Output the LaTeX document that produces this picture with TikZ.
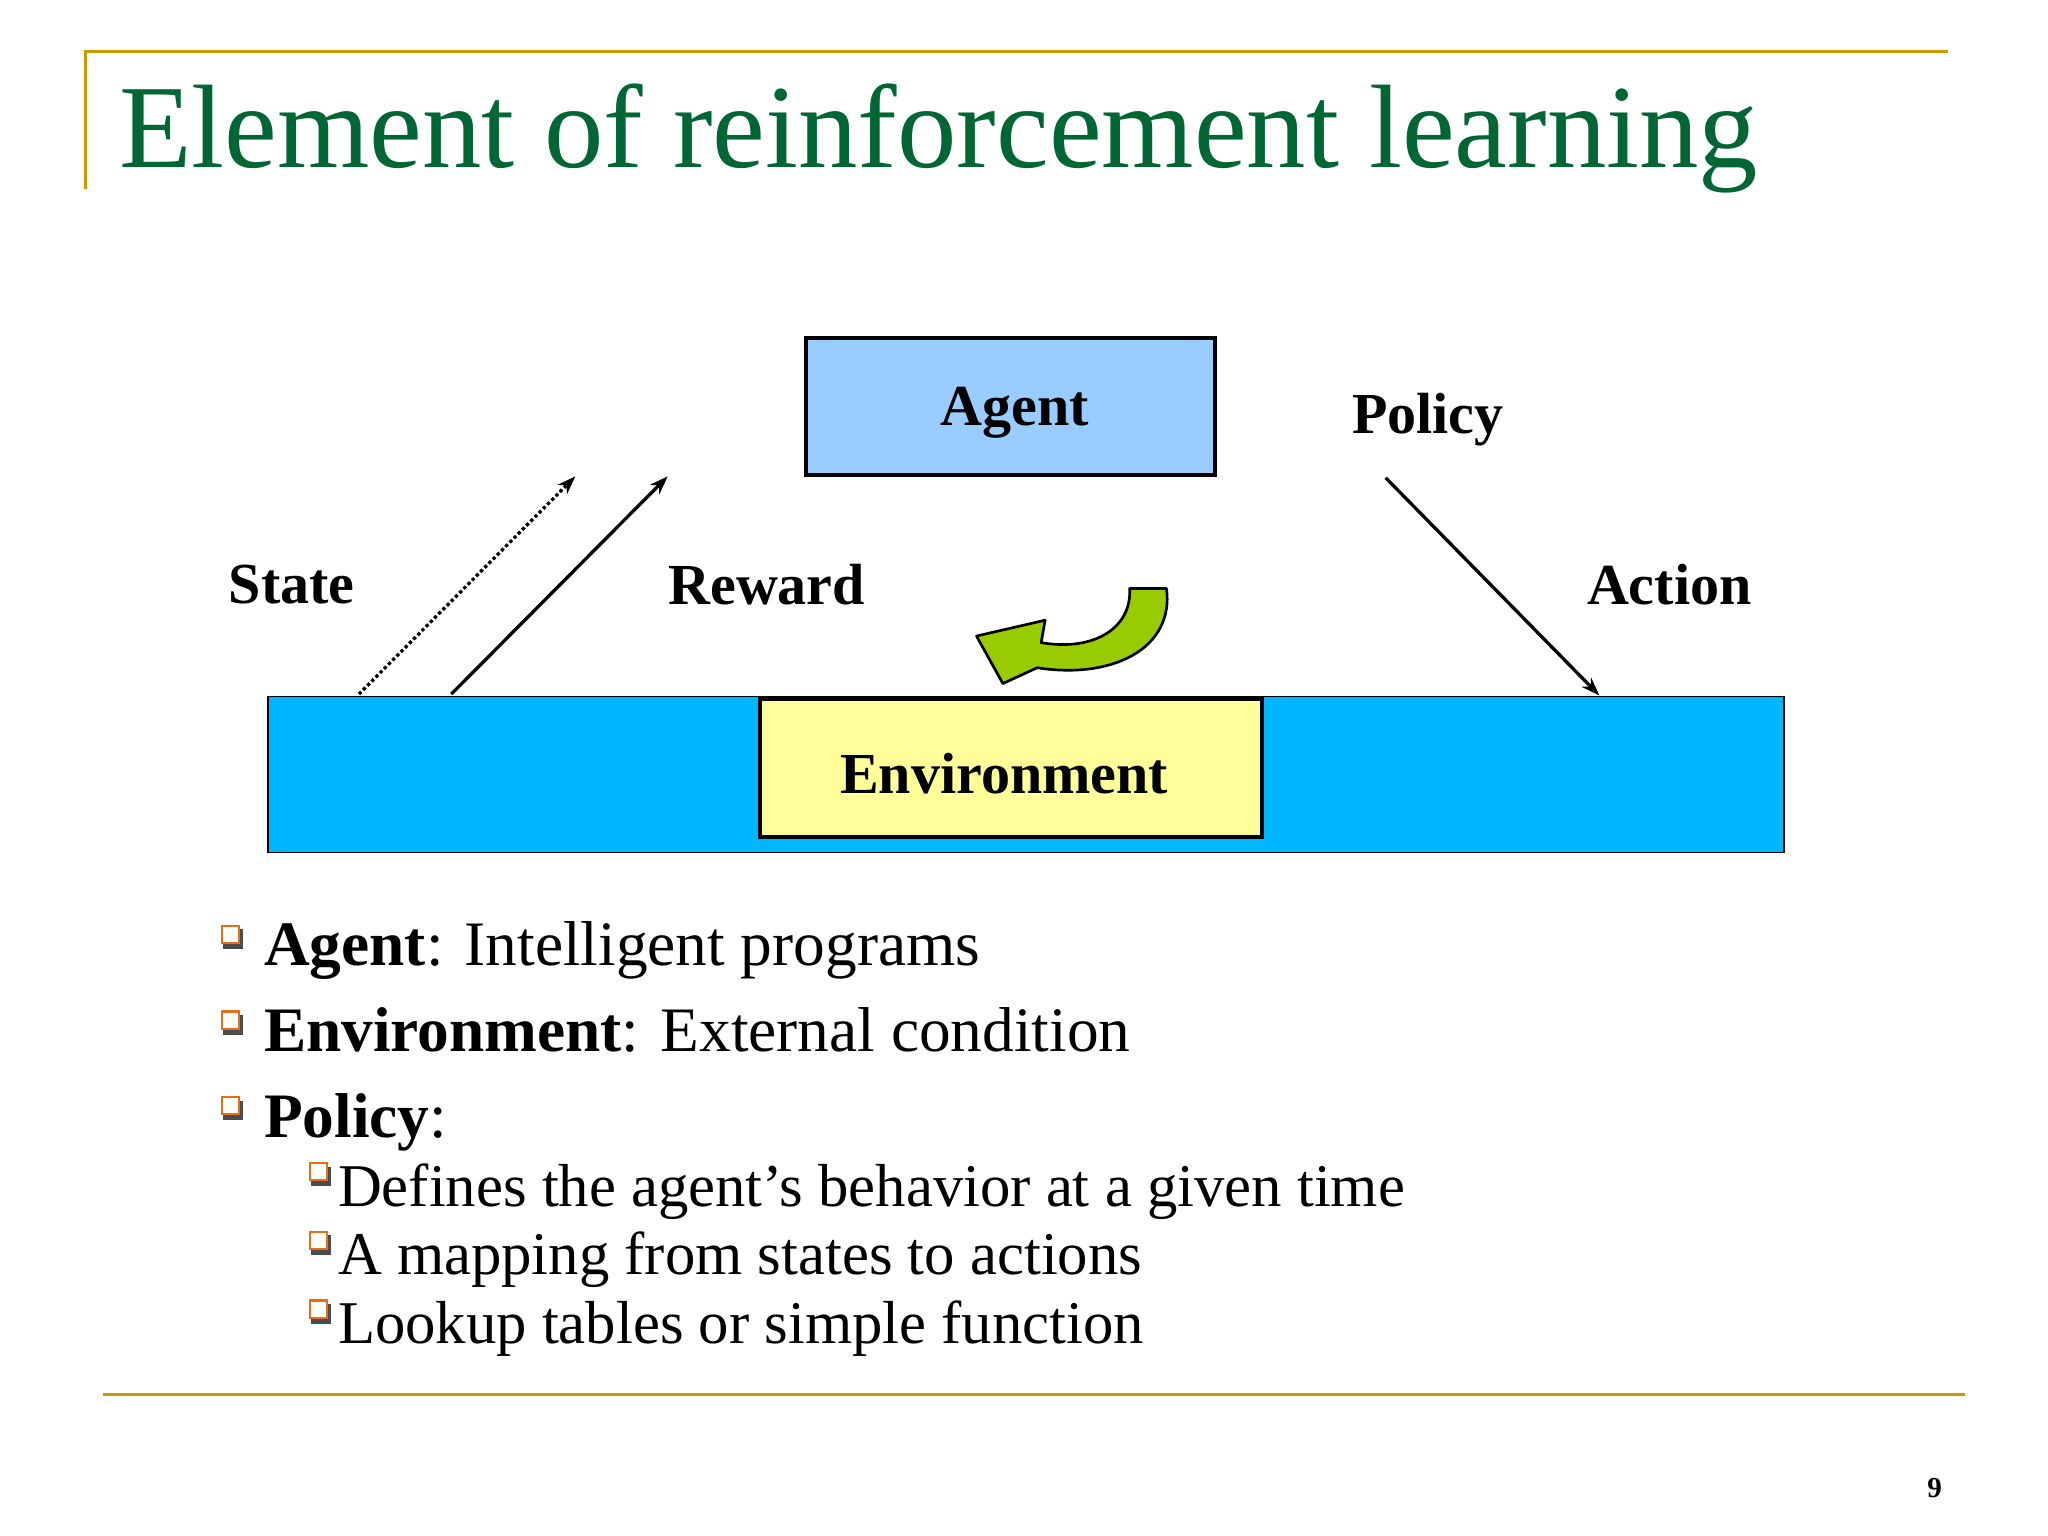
\documentclass[tikz,border=0pt]{standalone}
\usepackage{fontspec}
\setmainfont{Liberation Serif}
\usetikzlibrary{arrows.meta}
\definecolor{gold}{RGB}{204,153,0}
\definecolor{tgreen}{RGB}{0,102,51}
\definecolor{agentblue}{RGB}{153,204,255}
\definecolor{envblue}{RGB}{0,183,255}
\definecolor{envyel}{RGB}{255,255,153}
\definecolor{lgreen}{RGB}{153,204,0}
\definecolor{borange}{RGB}{230,110,20}
\tikzset{
 lbl/.style={font=\fontsize{44}{48}\selectfont\bfseries, inner sep=0pt},
 boxthick/.style={draw=black, line width=3pt},
 arr/.style={line width=2.5pt, -{Stealth[length=14pt,width=10pt]}},
 bl/.style={anchor=base west, inner sep=0pt, font=\fontsize{48}{52}\selectfont},
 sbl/.style={anchor=base west, inner sep=0pt, font=\fontsize{46}{50}\selectfont},
 sq/.style={draw=borange, line width=1.6pt, fill=white, minimum size=13pt, inner sep=0pt}
}
\begin{document}
\begin{tikzpicture}[x=1pt,y=-1pt]
\useasboundingbox (0,0) rectangle (1552,1164);
\fill[white] (0,0) rectangle (1552,1164);
% frame lines
\draw[gold, line width=2.5pt] (65,143) -- (65,39) -- (1476,39);
\draw[gold, line width=2.5pt] (78,1057) -- (1489,1057);
\node[anchor=base west, inner sep=0pt, text=tgreen, font=\fontsize{90}{96}\selectfont] (title) at (90,127) {Element of reinforcement learning};
% diagram
\node[boxthick, fill=agentblue, minimum width=310pt, minimum height=104pt, inner sep=0pt] (agent) at (766,308) {};
\node[lbl] (agentt) at (769,313) {Agent};
\node[draw=black, line width=1pt, fill=envblue, minimum width=1149pt, minimum height=118pt, inner sep=0pt] (band) at (777.5,587) {};
\node[boxthick, fill=envyel, minimum width=380pt, minimum height=104pt, inner sep=0pt] (env) at (766,582) {};
\node[lbl] (envt) at (761,586) {Environment};
\coordinate (s1) at (272,526); \coordinate (s2) at (436,361);
\coordinate (r1) at (342,526); \coordinate (r2) at (506,361);
\coordinate (p1) at (1050,362); \coordinate (p2) at (1212,527);
\draw[arr, dotted] (s1) -- (s2);
\draw[arr] (r1) -- (r2);
\draw[arr] (p1) -- (p2);
\node[lbl] (state) at (221,443) {State};
\node[lbl] (reward) at (581,443) {Reward};
\node[lbl] (policy) at (1082,318) {Policy};
\node[lbl] (action) at (1265,443) {Action};
% green curved arrow
\draw[line width=2pt, fill=lgreen, line join=round]
 (884,446) .. controls (890,492) and (842,515) .. (786,506) -- (760,518) -- (740,482) -- (792,470) -- (789,487)
 .. controls (830,494) and (858,475) .. (856,446) -- cycle;
% bullets
\foreach \y/\n in {708/b1,773/b2,838/b3}{
 \fill[black!70] (169,\y-4) rectangle (184,\y+11);
 \node[sq] (\n) at (174.5,\y) {};
}
\foreach \y/\n in {888/c1,940/c2,992/c3}{
 \fill[black!70] (236,\y-4) rectangle (251,\y+11);
 \node[sq] (\n) at (241.5,\y) {};
}
\node[bl] (t1) at (200,732) {\textbf{Agent}: Intelligent programs};
\node[bl] (t2) at (200,797) {\textbf{Environment}: External condition};
\node[bl] (t3) at (200,862) {\textbf{Policy}:};
\node[sbl] (u1) at (256,914) {Defines the agent’s behavior at a given time};
\node[sbl] (u2) at (256,966) {A mapping from states to actions};
\node[sbl] (u3) at (256,1018) {Lookup tables or simple function};
\node[anchor=base, inner sep=0pt, font=\fontsize{22}{24}\selectfont\bfseries] (pg) at (1466,1135) {9};
\end{tikzpicture}
\end{document}
